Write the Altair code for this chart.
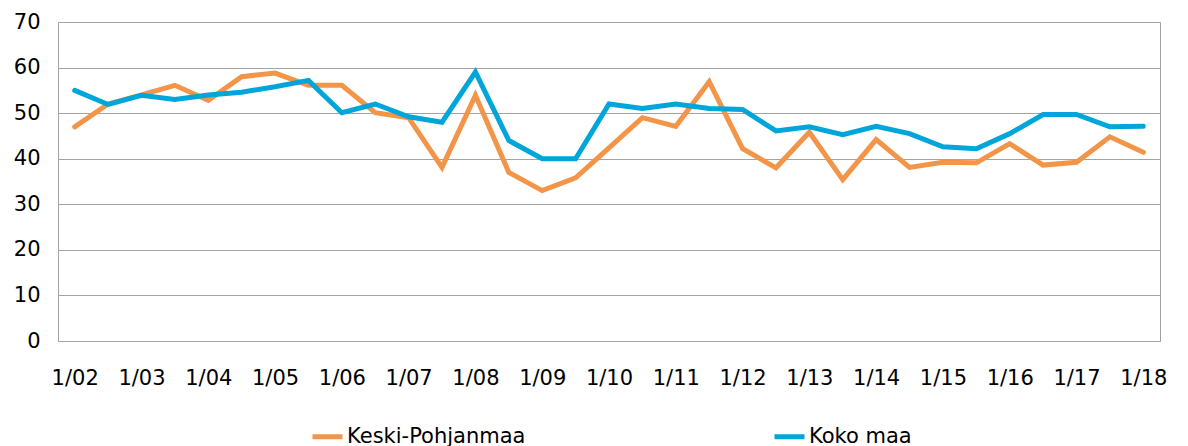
import altair as alt
import pandas as pd

periods = []
for yr in range(2, 19):
    periods.append(f"1/{yr:02d}")
    if yr < 18:
        periods.append(f"7/{yr:02d}")

keski = [47, 52, 54, 56.1, 52.8, 58.0, 58.8, 56.1, 56.1, 50.1, 49.0, 38.1, 53.9, 37.0, 33.0,
         35.8, 42.4, 49.0, 47.1, 56.9, 42.2, 38.0, 45.8, 35.4, 44.2, 38.1, 39.2, 39.1, 43.3,
         38.6, 39.2, 44.8, 41.4]
koko = [55.0, 51.9, 53.9, 53.0, 54.0, 54.6, 55.8, 57.2, 50.1, 52.0, 49.2, 48.0, 59.0, 44.0, 40.0,
        40.0, 52.0, 51.0, 52.0, 51.0, 50.8, 46.1, 47.0, 45.3, 47.1, 45.5, 42.6, 42.2, 45.5,
        49.7, 49.7, 47.0, 47.1]
series_names = ["Keski-Pohjanmaa", "Koko maa"]
colors = ["#F39549", "#00A6DA"]

rows = []
for name, vals in zip(series_names, [keski, koko]):
    for i, (p, v) in enumerate(zip(periods, vals)):
        rows.append({"period": p, "value": v, "series": name, "order": i})
df = pd.DataFrame(rows)

FONT = "DejaVu Sans"
GRID = "#A3A3A3"

chart = alt.Chart(df).mark_line(strokeWidth=5, strokeJoin="miter", strokeCap="round").encode(
    x=alt.X("period:O", sort=periods, title=None,
            scale=alt.Scale(type="point", padding=0.5),
            axis=alt.Axis(labelAngle=0, labelOverlap=False, ticks=False,
                          labelExpr="indexof(datum.label, '1/') == 0 ? datum.label : ''",
                          labelPadding=26, labelFontSize=21, labelFont=FONT,
                          labelColor="#000000", domainColor=GRID, grid=False)),
    y=alt.Y("value:Q", title=None,
            scale=alt.Scale(domain=[0, 70], nice=False),
            axis=alt.Axis(values=[0, 10, 20, 30, 40, 50, 60, 70], ticks=False,
                          labelPadding=18, labelFontSize=21, labelFont=FONT,
                          labelColor="#000000", domainColor=GRID, gridColor=GRID)),
    color=alt.Color("series:N", sort=series_names,
                    scale=alt.Scale(domain=series_names, range=colors),
                    legend=alt.Legend(title=None, orient="none", direction="horizontal",
                                      legendX=252, legendY=397,
                                      symbolType="stroke", symbolStrokeWidth=5,
                                      symbolSize=900, labelFontSize=21, labelFont=FONT,
                                      labelColor="#000000", labelOffset=2, labelLimit=400,
                                      columnPadding=238)),
    detail="series:N",
).properties(
    width=1102, height=319,
    padding={"left": 5, "top": 3, "right": 5, "bottom": 5},
).configure_view(stroke=GRID, strokeWidth=1).configure_axis(domainWidth=1, gridWidth=1)

chart.save("out.html", embed_options={"renderer": "svg", "actions": False})
